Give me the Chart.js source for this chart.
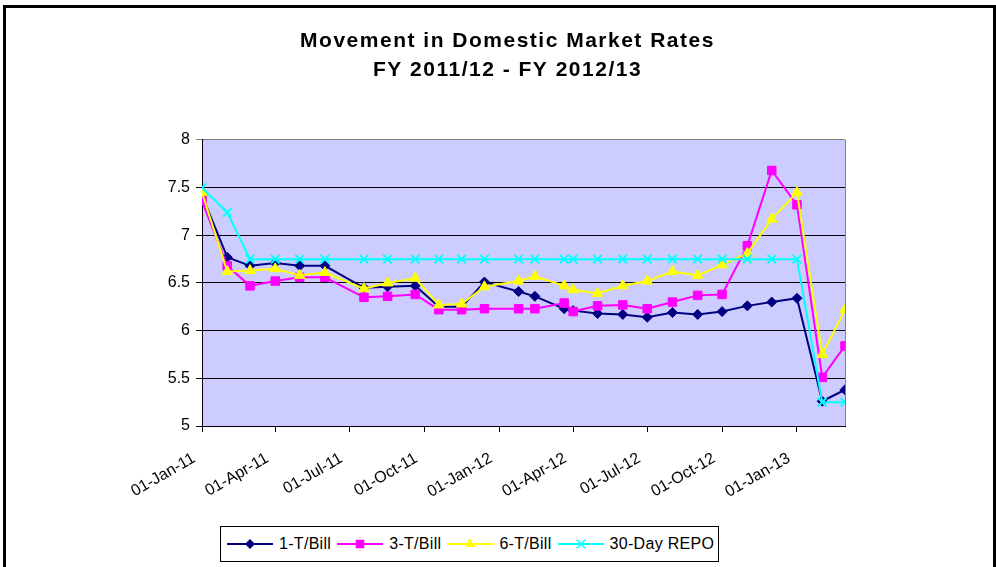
<!DOCTYPE html>
<html>
<head>
<meta charset="utf-8">
<title>Movement in Domestic Market Rates</title>
<script src="https://cdn.jsdelivr.net/npm/chart.js@4.4.1/dist/chart.umd.min.js"></script>
<style>
  html, body { margin: 0; padding: 0; background: #fff; }
  #wrap { position: relative; width: 996px; height: 567px; overflow: hidden; }
  #frame {
    position: absolute; left: 3px; top: 5px; width: 993px; height: 620px;
    border: 3px solid #000; box-sizing: border-box; pointer-events: none;
  }
  #legend {
    position: absolute; left: 220px; top: 526px; width: 499px; height: 36px;
    border: 1px solid #000; box-sizing: border-box; background: #fff;
    display: flex; align-items: center;
    font: 16px "Liberation Sans", Arial, sans-serif; color: #000;
  }
  #legend canvas { margin-left: 6px; }
  #legend span { margin-left: 6px; white-space: nowrap; letter-spacing: 0.3px; }
</style>
</head>
<body>
<div id="wrap">
  <canvas id="ratesChart" width="996" height="567"></canvas>
  <div id="frame"></div>
  <div id="legend"></div>
</div>
<script>
// dates of the observations
const obsDates = [
  '2011-01-01', '2011-02-01', '2011-03-01', '2011-04-01', '2011-05-01', '2011-06-01',
  '2011-07-19', '2011-08-17', '2011-09-20', '2011-10-19', '2011-11-16', '2011-12-14',
  '2012-01-25', '2012-02-14', '2012-03-21', '2012-04-01', '2012-05-01', '2012-06-01',
  '2012-07-01', '2012-08-01', '2012-09-01', '2012-10-01', '2012-11-01', '2012-12-01',
  '2013-01-01', '2013-02-01', '2013-03-01'
];

const tBill1 = [
  7.42, 6.77, 6.68, 6.71, 6.68, 6.68, 6.45, 6.46, 6.47, 6.25, 6.25, 6.51, 6.41, 6.36,
  6.23, 6.21, 6.18, 6.17, 6.14, 6.19, 6.17, 6.20, 6.26, 6.30, 6.34, 5.26, 5.38
];
const tBill3 = [
  7.36, 6.68, 6.47, 6.52, 6.56, 6.56, 6.35, 6.36, 6.38, 6.22, 6.22, 6.23, 6.23, 6.23,
  6.29, 6.20, 6.26, 6.27, 6.23, 6.30, 6.37, 6.38, 6.89, 7.68, 7.32, 5.51, 5.84
];
const tBill6 = [
  7.45, 6.62, 6.63, 6.65, 6.58, 6.61, 6.44, 6.50, 6.55, 6.27, 6.28, 6.46, 6.52, 6.57,
  6.47, 6.43, 6.39, 6.47, 6.52, 6.62, 6.58, 6.69, 6.81, 7.17, 7.45, 5.75, 6.22
];
const repo30 = [
  7.50, 7.24, 6.75, 6.75, 6.75, 6.75, 6.75, 6.75, 6.75, 6.75, 6.75, 6.75, 6.75, 6.75,
  6.75, 6.75, 6.75, 6.75, 6.75, 6.75, 6.75, 6.75, 6.75, 6.75, 6.75, 5.25, 5.25
];

const seriesNames = ['1-T/Bill', '3-T/Bill', '6-T/Bill', '30-Day REPO'];
const tickDates = [
  '2011-01-01', '2011-04-01', '2011-07-01', '2011-10-01', '2012-01-01',
  '2012-04-01', '2012-07-01', '2012-10-01', '2013-01-01'
];
const axisStart = '2011-01-01';
const axisEnd = '2013-03-01';
const monthNames = ['Jan', 'Feb', 'Mar', 'Apr', 'May', 'Jun', 'Jul', 'Aug', 'Sep', 'Oct', 'Nov', 'Dec'];

const DAY = 24 * 3600 * 1000;
const dayNum = s => Date.parse(s + 'T00:00:00Z') / DAY;

function fmtDate(n) {
  const d = new Date(Math.round(n) * DAY);
  const dd = String(d.getUTCDate()).padStart(2, '0');
  const yy = String(d.getUTCFullYear()).slice(2);
  return dd + '-' + monthNames[d.getUTCMonth()] + '-' + yy;
}

const pts = vals => vals.map((v, i) => ({ x: dayNum(obsDates[i]), y: v }));

const styles = [
  { color: '#000080', point: 'rectRot', radius: 5, pbw: 1 },
  { color: '#FF00FF', point: 'rect', radius: 6, pbw: 1 },
  { color: '#FFFF00', point: 'triangle', radius: 6, pbw: 1 },
  { color: '#00FFFF', point: 'crossRot', radius: 6, pbw: 2 }
];
const allSeries = [tBill1, tBill3, tBill6, repo30];

/* plot background + right border, title spacing / shift */
const plotBg = {
  id: 'plotBg',
  beforeDraw(chart) {
    const { ctx, chartArea: a } = chart;
    const tb = chart.titleBlock;
    if (tb && !tb._spaced) {
      const orig = tb.draw.bind(tb);
      tb.draw = function () {
        ctx.save();
        ctx.translate(14, 0);
        ctx.letterSpacing = '1.5px';
        orig();
        ctx.restore();
      };
      tb._spaced = true;
    }
    ctx.save();
    ctx.fillStyle = '#CCCCFF';
    ctx.fillRect(a.left, a.top, a.right - a.left, a.bottom - a.top);
    ctx.restore();
  },
  beforeDatasetsDraw(chart) {
    const { ctx, chartArea: a } = chart;
    ctx.save();
    ctx.strokeStyle = '#808080';
    ctx.lineWidth = 1;
    ctx.beginPath();
    ctx.moveTo(a.right + 0.5, a.top);
    ctx.lineTo(a.right + 0.5, a.bottom);
    ctx.stroke();
    ctx.restore();
  }
};

const tickFont = { family: '"Liberation Sans", Arial, sans-serif', size: 16 };

new Chart(document.getElementById('ratesChart'), {
  type: 'line',
  data: {
    datasets: allSeries.map((vals, i) => ({
      label: seriesNames[i],
      data: pts(vals),
      borderColor: styles[i].color,
      backgroundColor: styles[i].color,
      borderWidth: 2,
      pointStyle: styles[i].point,
      pointRadius: styles[i].radius,
      pointBorderWidth: styles[i].pbw,
      pointBackgroundColor: styles[i].color,
      pointBorderColor: styles[i].color,
      tension: 0,
      fill: false,
      order: 4 - i
    }))
  },
  options: {
    responsive: false,
    animation: false,
    layout: { padding: { left: 142, right: 151, top: 0, bottom: 0 } },
    plugins: {
      legend: { display: false },
      tooltip: { enabled: false },
      title: {
        display: true,
        text: ['Movement in Domestic Market Rates', 'FY 2011/12 - FY 2012/13'],
        color: '#000',
        font: { family: '"Liberation Sans", Arial, sans-serif', size: 21, weight: 'bold', lineHeight: 1.38 },
        padding: { top: 27, bottom: 55 }
      }
    },
    scales: {
      x: {
        type: 'linear',
        min: dayNum(axisStart),
        max: dayNum(axisEnd),
        afterBuildTicks: scale => {
          scale.ticks = tickDates.map(d => ({ value: dayNum(d) }));
        },
        afterFit: scale => { scale.height = 141; },
        ticks: {
          autoSkip: false,
          minRotation: 30,
          maxRotation: 30,
          padding: 17,
          labelOffset: -8,
          color: '#000',
          font: tickFont,
          callback: v => fmtDate(v)
        },
        grid: { drawOnChartArea: false, drawTicks: true, tickLength: 6, color: '#000' },
        border: { display: true, color: '#000', width: 1 }
      },
      y: {
        min: 5,
        max: 8,
        afterFit: scale => { scale.width = 60; },
        ticks: { stepSize: 0.5, padding: 6, color: '#000', font: tickFont, callback: v => String(v) },
        grid: {
          tickLength: 6,
          color: c => (c.tick && c.tick.value === 8 ? '#808080' : '#000'),
          lineWidth: 1
        },
        border: { display: true, color: '#000', width: 1 }
      }
    }
  },
  plugins: [plotBg]
});

/* legend: line + marker samples */
function drawSample(cv, st) {
  const ctx = cv.getContext('2d');
  const w = cv.width, h = cv.height, cx = w / 2, cy = h / 2, r = st.radius;
  ctx.strokeStyle = st.color;
  ctx.fillStyle = st.color;
  ctx.lineWidth = 2;
  ctx.beginPath();
  ctx.moveTo(0, cy);
  ctx.lineTo(w, cy);
  ctx.stroke();
  ctx.beginPath();
  if (st.point === 'rectRot') {
    ctx.moveTo(cx, cy - r); ctx.lineTo(cx + r, cy); ctx.lineTo(cx, cy + r); ctx.lineTo(cx - r, cy);
    ctx.closePath(); ctx.fill();
  } else if (st.point === 'rect') {
    const s = r * Math.SQRT1_2;
    ctx.fillRect(cx - s, cy - s, 2 * s, 2 * s);
  } else if (st.point === 'triangle') {
    ctx.moveTo(cx, cy - r);
    ctx.lineTo(cx + r * 0.866, cy + r / 2);
    ctx.lineTo(cx - r * 0.866, cy + r / 2);
    ctx.closePath(); ctx.fill();
  } else {
    const s = r * Math.SQRT1_2;
    ctx.lineWidth = 1.5;
    ctx.moveTo(cx - s, cy - s); ctx.lineTo(cx + s, cy + s);
    ctx.moveTo(cx + s, cy - s); ctx.lineTo(cx - s, cy + s);
    ctx.stroke();
  }
}

const legendEl = document.getElementById('legend');
seriesNames.forEach((name, i) => {
  const cv = document.createElement('canvas');
  cv.width = 46; cv.height = 14;
  drawSample(cv, styles[i]);
  const sp = document.createElement('span');
  sp.textContent = name;
  legendEl.appendChild(cv);
  legendEl.appendChild(sp);
});
</script>
</body>
</html>
